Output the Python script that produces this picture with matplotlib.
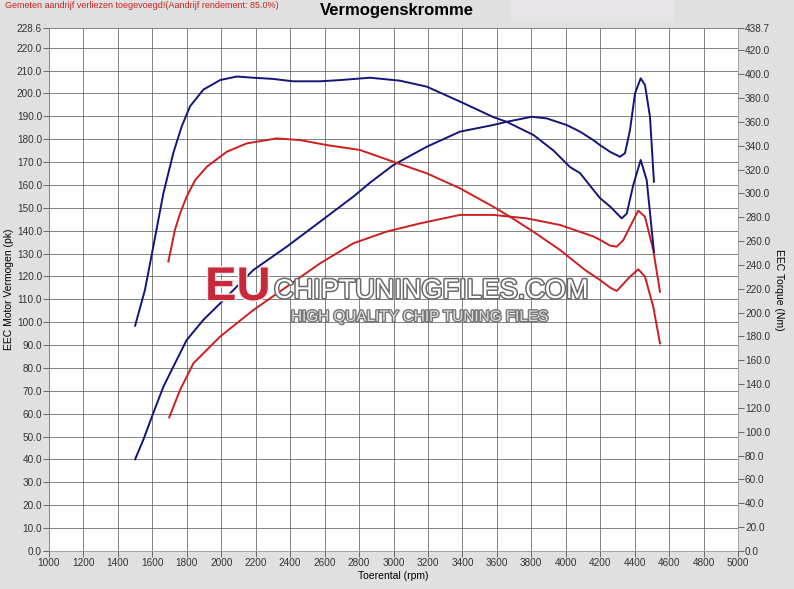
import matplotlib
matplotlib.use("Agg")
import matplotlib.pyplot as plt
import matplotlib.patheffects as pe
from matplotlib.patches import Rectangle

# ---- data ----
x_ticks = list(range(1000, 5001, 200))
left_ticks = [i * 10.0 for i in range(0, 23)] + [228.6]
right_ticks = [i * 20.0 for i in range(0, 22)] + [438.7]

# Tuned (blue)
blue_power_rpm = [1500, 1547, 1605, 1664, 1722, 1799, 1896, 1993, 2186, 2380, 2573, 2767, 2864,
                  2999, 3193, 3386, 3579, 3657, 3802, 3889, 4005, 4083, 4160, 4199, 4257, 4315,
                  4344, 4373, 4402, 4435, 4460, 4489, 4512]
blue_power = [40.1, 48.5, 60.2, 71.8, 80.6, 92.2, 101.0, 108.2, 122.8, 133.0, 143.9, 154.9, 161.0,
              168.7, 176.7, 183.3, 186.2, 187.6, 189.8, 189.1, 186.2, 183.3, 179.6, 177.4, 174.5,
              172.3, 173.9, 184.0, 200.0, 206.6, 203.7, 189.8, 161.4]

blue_torque_rpm = [1500, 1557, 1605, 1664, 1722, 1770, 1819, 1896, 1993, 2090, 2184, 2300, 2417,
                   2573, 2689, 2864, 3038, 3193, 3386, 3579, 3657, 3812, 3928, 4025, 4083, 4160,
                   4199, 4257, 4325, 4354, 4392, 4435, 4470, 4512]
blue_torque = [189, 219, 255, 300, 334, 356, 373, 387, 395, 398, 397, 396, 394, 394, 395, 397,
               394.5, 389.5, 377, 364, 360, 349, 336, 322, 317, 303, 296, 289, 279, 283, 307,
               328, 311, 251]

# Stock (red)
red_power_rpm = [1698, 1761, 1838, 1993, 2186, 2380, 2573, 2767, 2960, 3154, 3386, 3579, 3773,
                 3967, 4160, 4199, 4257, 4296, 4334, 4383, 4421, 4460, 4508, 4547]
red_power = [58.4, 70.4, 82.0, 93.7, 105.3, 115.5, 125.7, 134.5, 139.6, 143.2, 146.9, 146.9, 145.4,
             142.5, 137.5, 136.0, 133.5, 133.0, 135.9, 143.2, 148.8, 146.1, 131.6, 113.3]

red_torque_rpm = [1693, 1731, 1761, 1799, 1848, 1916, 2032, 2148, 2322, 2457, 2612, 2805, 2999,
                  3193, 3386, 3579, 3676, 3812, 3967, 4112, 4199, 4257, 4296, 4373, 4421, 4460,
                  4508, 4547]
red_torque = [242.8, 269.3, 283.2, 297.2, 311.0, 322.3, 334.9, 341.9, 346.1, 344.7, 340.5, 336.4,
              326.5, 316.8, 304.2, 288.8, 280.4, 267.8, 252.5, 235.7, 227.3, 221.0, 218.1, 230.1,
              236.3, 230.1, 204.9, 174.2]

BLUE = "#14147a"
RED = "#cc1f1f"
BG = "#e0e0e0"

plt.rcParams['font.family'] = ['Liberation Sans', 'DejaVu Sans']

fig = plt.figure(figsize=(7.94, 5.89), dpi=100, facecolor=BG)
fig.patches.append(Rectangle((510 / 794, 1 - 22 / 589), 165 / 794, 22 / 589,
                             transform=fig.transFigure, facecolor="#e6e4e6",
                             edgecolor="none", zorder=0))

ax = fig.add_axes([49 / 794, 1 - 551 / 589, 689 / 794, 523 / 589])
ax.set_facecolor("white")
ax.set_xlim(1000, 5000)
ax.set_ylim(0, 228.6)
ax.set_xticks(x_ticks)
ax.set_xticklabels([str(t) for t in x_ticks])
ax.set_yticks(left_ticks)
ax.set_yticklabels([f"{t:.1f}" for t in left_ticks])
ax.grid(True, color="#606060", linewidth=0.55)
ax.set_axisbelow(True)
for s in ax.spines.values():
    s.set_color("#888888")
    s.set_linewidth(0.5)
ax.tick_params(direction="out", length=4, width=0.6, color="#555555",
               labelsize=7.2, labelcolor="#333333", pad=1)

ax2 = ax.twinx()
ax2.set_ylim(0, 438.7)
ax2.set_yticks(right_ticks)
ax2.set_yticklabels([f"{t:.1f}" for t in right_ticks])
ax2.tick_params(direction="out", length=4, width=0.6, color="#555555",
                labelsize=7.2, labelcolor="#333333", pad=1)
for s in ax2.spines.values():
    s.set_visible(False)

ax.plot(blue_power_rpm, blue_power, color=BLUE, lw=1.4, zorder=3)
ax.plot(red_power_rpm, red_power, color=RED, lw=1.4, zorder=3)
ax2.plot(blue_torque_rpm, blue_torque, color=BLUE, lw=1.4, zorder=3)
ax2.plot(red_torque_rpm, red_torque, color=RED, lw=1.4, zorder=3)

ax.set_xlabel("Toerental (rpm)", fontsize=7.5, labelpad=2)
ax.set_ylabel("EEC Motor Vermogen (pk)", fontsize=7.5, labelpad=2)
ax2.set_ylabel("EEC Torque (Nm)", fontsize=7.5, rotation=-90, labelpad=10)

fig.text(397 / 794, 1 - 11 / 589, "Vermogenskromme", ha="center", va="center",
         fontsize=12, fontweight="bold")
fig.text(5 / 794, 1 - 6 / 589, "Gemeten aandrijf verliezen toegevoegd!(Aandrijf rendement: 85.0%)",
         ha="left", va="center", fontsize=6.5, color="#cc2222")

# watermark
fig.text(205 / 794, 1 - 300 / 589, "EU", ha="left", va="baseline", fontsize=34,
         fontweight="bold", color="#c8283a", zorder=10,
         path_effects=[pe.withStroke(linewidth=2, foreground="#f0f0f0")])
fig.text(274 / 794, 1 - 298 / 589, "CHIPTUNINGFILES.COM", ha="left", va="baseline",
         fontsize=19.5, color="white", zorder=10,
         path_effects=[pe.withStroke(linewidth=2.2, foreground="#6a6a6a")])
fig.text(291 / 794, 1 - 321 / 589, "HIGH QUALITY CHIP TUNING FILES", ha="left", va="baseline",
         fontsize=11, color="#dddddd", zorder=10,
         path_effects=[pe.withStroke(linewidth=2, foreground="#777777")])

fig.savefig("out.png", dpi=100, facecolor=BG)
